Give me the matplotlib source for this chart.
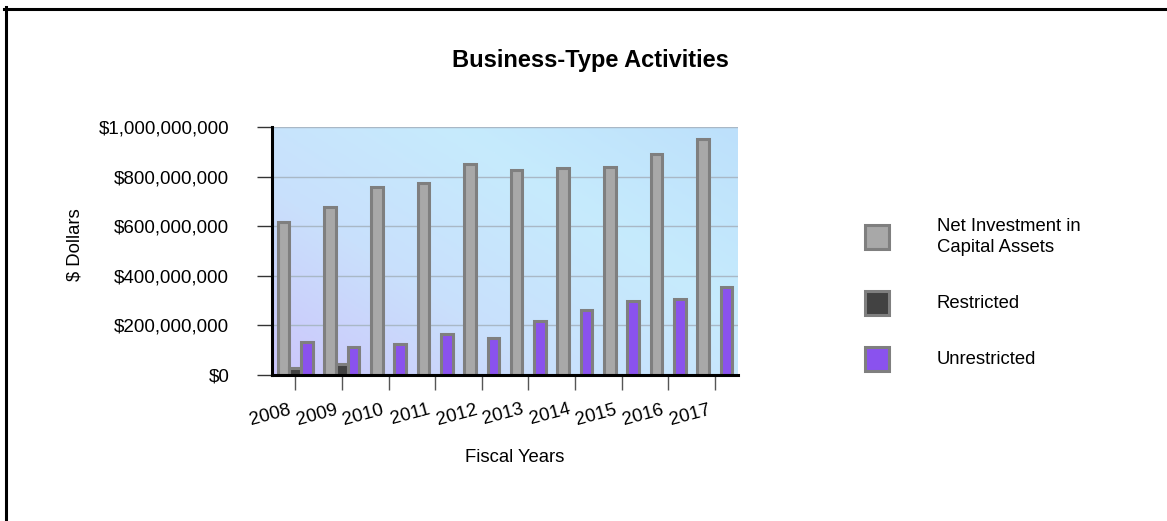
import numpy as np
import matplotlib
matplotlib.use("Agg")
import matplotlib.pyplot as plt
from matplotlib.lines import Line2D
from matplotlib.patches import Rectangle
from matplotlib.colors import LinearSegmentedColormap
from matplotlib.ticker import FuncFormatter
from matplotlib.transforms import ScaledTranslation

plt.rcParams['font.family'] = ['Liberation Sans', 'DejaVu Sans']

# Данные
years = ['2008', '2009', '2010', '2011', '2012', '2013', '2014', '2015', '2016', '2017']
net_investment = [618e6, 677e6, 759e6, 774e6, 852e6, 825e6, 833e6, 839e6, 892e6, 952e6]
restricted = [29e6, 43e6, 0, 0, 0, 0, 0, 0, 0, 0]
unrestricted = [132e6, 113e6, 124e6, 167e6, 148e6, 218e6, 262e6, 298e6, 306e6, 354e6]

series_names = ['Net Investment in\nCapital Assets', 'Restricted', 'Unrestricted']
fill_colors = ['#a8a8a8', '#424242', '#8a52ee']
edge_color = '#7f7f7f'

W, H = 1167, 521
fig = plt.figure(figsize=(W / 100, H / 100), dpi=100)
ax = fig.add_axes([272 / W, 146 / H, 466 / W, 248 / H])

# фон с градиентом: слева снизу сиреневый, справа сверху голубой
cmap = LinearSegmentedColormap.from_list('bg', ['#ccc6fb', '#c9e0fc', '#c6ebfd', '#bde0fb'])
gx, gy = np.meshgrid(np.linspace(0, 1, 200), np.linspace(0, 1, 200))
grad = (gx * 0.55 + gy * 0.45)
ax.imshow(grad, cmap=cmap, extent=[0, 1, 0, 1], transform=ax.transAxes,
          aspect='auto', origin='lower', zorder=0)

x = np.arange(len(years))
w = 0.25
for i, vals in enumerate([net_investment, restricted, unrestricted]):
    ax.bar(x + (i - 1) * w, vals, width=w, color=fill_colors[i],
           edgecolor=edge_color, linewidth=2.2, zorder=3)

ax.set_xlim(-0.5, len(years) - 0.5)
ax.set_ylim(0, 1e9)
ax.set_yticks(np.arange(0, 1.01e9, 2e8))
ax.yaxis.set_major_formatter(FuncFormatter(lambda v, p: '${:,.0f}'.format(v)))
ax.grid(axis='y', color='#a9b8c6', linewidth=1, zorder=1)
ax.set_axisbelow(True)

ax.set_xticks(x)
ax.set_xticklabels(years, fontsize=13.5)
ax.tick_params(axis='x', length=10.8, width=1, color='#555555', pad=8)
ax.tick_params(axis='y', length=10.8, width=1, color='#333333', labelsize=13.5, pad=20)
shift = ScaledTranslation(-7 / 100, 0, fig.dpi_scale_trans)
for lbl in ax.get_xticklabels():
    lbl.set_rotation(15)
    lbl.set_rotation_mode('anchor')
    lbl.set_ha('right')
    lbl.set_va('top')
    lbl.set_transform(lbl.get_transform() + shift)

for s in ['top', 'right']:
    ax.spines[s].set_visible(False)
ax.spines['left'].set_linewidth(2.2)
ax.spines['bottom'].set_linewidth(2.2)
ax.spines['left'].set_zorder(5)
ax.spines['bottom'].set_zorder(5)

fig.text(590 / W, 1 - 60 / H, 'Business-Type Activities', ha='center', va='center',
         fontsize=17, fontweight='bold')
fig.text(515 / W, 1 - 458 / H, 'Fiscal Years', ha='center', va='center', fontsize=13.3)
fig.text(75 / W, 1 - 245 / H, '$ Dollars', ha='center', va='center', fontsize=13.3,
         rotation=90)

# легенда вручную: квадраты и подписи
legend_y = [237, 303, 359]
for i in range(3):
    fig.add_artist(Rectangle((865 / W, 1 - (legend_y[i] + 12) / H), 24 / W, 24 / H,
                             transform=fig.transFigure, facecolor=fill_colors[i],
                             edgecolor=edge_color, linewidth=2.2))
    fig.text(937 / W, 1 - legend_y[i] / H, series_names[i], ha='left', va='center',
             fontsize=13.3, linespacing=1.35)

# рамка слева и сверху
fig.add_artist(Line2D([5.5 / W, 5.5 / W], [0, 1 - 7 / H], color='black', linewidth=2.2))
fig.add_artist(Line2D([4 / W, 1], [1 - 8.5 / H, 1 - 8.5 / H], color='black', linewidth=2.2))

fig.savefig('out.png', dpi=100)
